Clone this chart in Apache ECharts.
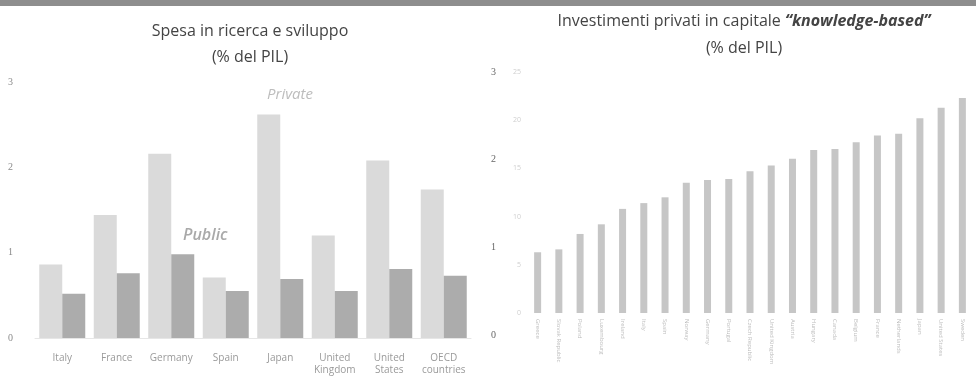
<!DOCTYPE html>
<html><head><meta charset="utf-8">
<script src="https://cdn.jsdelivr.net/npm/echarts@6/dist/echarts.min.js"></script>
<style>html,body{margin:0;padding:0;background:#fff}#c{width:976px;height:376px}</style>
</head><body><div id="c"></div>
<script>
const leftCategories = ['Italy','France','Germany','Spain','Japan','United\nKingdom','United\nStates','OECD\ncountries'];
const privateRD = [0.86, 1.44, 2.16, 0.71, 2.62, 1.20, 2.08, 1.74];
const publicRD = [0.52, 0.76, 0.98, 0.55, 0.69, 0.55, 0.81, 0.73];
const leftTicks = [0, 1, 2, 3];

const rightCategories = ['Greece','Slovak Republic','Poland','Luxembourg','Ireland','Italy','Spain','Norway','Germany','Portugal','Czech Republic','United Kingdom','Austria','Hungary','Canada','Belgium','France','Netherlands','Japan','United States','Sweden'];
const kbcValues = [6.3, 6.6, 8.2, 9.2, 10.8, 11.4, 12.0, 13.5, 13.8, 13.9, 14.7, 15.3, 16.0, 16.9, 17.0, 17.7, 18.4, 18.6, 20.2, 21.3, 22.3];
const rightTicks = [0, 5, 10, 15, 20, 25];
const strayTicks = [0, 1, 2, 3];

const font = 'Open Sans';
const chart = echarts.init(document.getElementById('c'));
chart.setOption({
  animation: false,
  backgroundColor: '#fff',
  textStyle: {fontFamily: font},
  title: [
    {text: 'Spesa in ricerca e sviluppo\n(% del PIL)', left: 245, top: 13, textAlign: 'center',
     textStyle: {fontSize: 16, fontWeight: 'normal', color: '#444', lineHeight: 26, fontFamily: font}},
    {text: 'Investimenti privati in capitale {i|“knowledge-based”}\n(% del PIL)', left: 739, top: 3, textAlign: 'center',
     textStyle: {fontSize: 16, fontWeight: 'normal', color: '#444', lineHeight: 27, fontFamily: font,
       rich: {i: {fontStyle: 'italic', fontWeight: 'bold', fontSize: 16, color: '#444', fontFamily: font}}}}
  ],
  graphic: [
    {type: 'rect', shape: {x: 0, y: 0, width: 976, height: 6}, style: {fill: '#8e8e8e'}},
    {type: 'text', left: 267, top: 87, style: {text: 'Private', fill: '#bdbdbd', font: 'italic 15px "Open Sans"'}},
    {type: 'text', left: 183, top: 227, style: {text: 'Public', fill: '#a9a9a9', font: 'italic 600 16px "Open Sans"'}}
  ],
  grid: [
    {left: 35, width: 436, top: 82, bottom: 37},
    {left: 527, right: 3, top: 72, bottom: 63},
    {left: 500, width: 10, top: 72, bottom: 41}
  ],
  xAxis: [
    {type: 'category', gridIndex: 0, data: leftCategories,
     axisLine: {show: true, lineStyle: {color: '#e6e6e6'}}, axisTick: {show: false},
     axisLabel: {color: '#9a9a9a', fontSize: 10, margin: 14, lineHeight: 12, interval: 0}},
    {type: 'category', gridIndex: 1, data: rightCategories,
     axisLine: {show: false}, axisTick: {show: false},
     axisLabel: {color: '#bdbdbd', fontSize: 6, rotate: -90, margin: 6, interval: 0}},
    {type: 'category', gridIndex: 2, data: [''], show: false}
  ],
  yAxis: [
    {type: 'value', gridIndex: 0, min: leftTicks[0], max: leftTicks[leftTicks.length - 1], interval: 1,
     splitLine: {show: false}, axisLine: {show: false}, axisTick: {show: false},
     axisLabel: {color: '#8a8a8a', fontSize: 10, margin: 22, fontFamily: 'Liberation Serif'}},
    {type: 'value', gridIndex: 1, min: rightTicks[0], max: rightTicks[rightTicks.length - 1], interval: 5,
     splitLine: {show: false}, axisLine: {show: false}, axisTick: {show: false},
     axisLabel: {color: '#cfcfcf', fontSize: 7, margin: 6}},
    {type: 'value', gridIndex: 2, min: strayTicks[0], max: strayTicks[strayTicks.length - 1], interval: 1,
     splitLine: {show: false}, axisLine: {show: false}, axisTick: {show: false},
     axisLabel: {color: '#666', fontSize: 10, margin: 4, fontFamily: 'Liberation Serif'}}
  ],
  series: [
    {type: 'bar', name: 'Private', xAxisIndex: 0, yAxisIndex: 0, data: privateRD, barWidth: 23, barGap: '0%',
     itemStyle: {color: '#dadada'}},
    {type: 'bar', name: 'Public', xAxisIndex: 0, yAxisIndex: 0, data: publicRD, barWidth: 23, barGap: '0%',
     itemStyle: {color: '#acacac'}},
    {type: 'bar', name: 'KBC', xAxisIndex: 1, yAxisIndex: 1, data: kbcValues, barWidth: 7,
     itemStyle: {color: '#c6c6c6'}}
  ]
});
</script></body></html>
